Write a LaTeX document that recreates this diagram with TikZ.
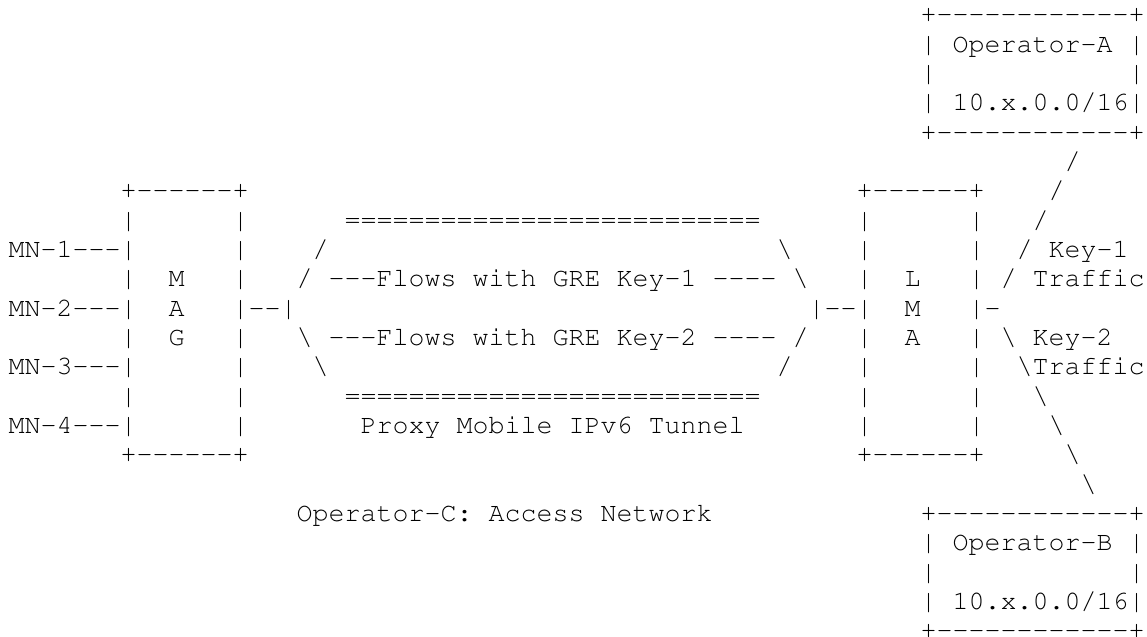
\documentclass[tikz,border=0pt]{standalone}
\usepackage[T1]{fontenc}
\usepackage{courier}

\newcommand\rul[1]{\foreach\k in {1,...,#1}{-}}

\begin{document}
\begin{tikzpicture}[x=6pt, y=-11pt,
    ascii/.style={anchor=base west, inner sep=0pt, text depth=0pt, font=\fontsize{10}{11}\selectfont\ttfamily}]
      \useasboundingbox (0,0) rectangle (71.6875,21.716);
      \node[ascii] (opA0) at (57.5,0.78) {+\rul{12}+};
      \node[ascii] (opA1) at (57.5,1.78) {| Operator-A |};
      \node[ascii] (opA2) at (57.5,2.78) {|~~~~~~~~~~~~|};
      \node[ascii] (opA3) at (57.5,3.78) {| 10.x.0.0/16|};
      \node[ascii] (opA4) at (57.5,4.78) {+\rul{12}+};
      \node[ascii] (keyA5) at (66.5,5.78) {/};
      \node[ascii] (mag6) at (7.5,6.78) {+\rul{6}+};
      \node[ascii] (lma6) at (53.5,6.78) {+\rul{6}+};
      \node[ascii] (keyA6) at (65.5,6.78) {/};
      \node[ascii] (mag7) at (7.5,7.78) {|~~~~~~|};
      \node[ascii] (tun7) at (21.5,7.78) {==========================};
      \node[ascii] (lma7) at (53.5,7.78) {|~~~~~~|};
      \node[ascii] (keyA7) at (64.5,7.78) {/};
      \node[ascii] (mag8) at (0.5,8.78) {MN-1\rul{3}|~~~~~~|};
      \node[ascii] (tun8a) at (19.5,8.78) {/};
      \node[ascii] (tun8b) at (48.5,8.78) {\textbackslash};
      \node[ascii] (lma8) at (53.5,8.78) {|~~~~~~|};
      \node[ascii] (keyA8) at (63.5,8.78) {/ Key-1};
      \node[ascii] (mag9) at (7.5,9.78) {|~~M~~~|};
      \node[ascii] (tun9) at (18.5,9.78) {/ \rul{3}Flows with GRE Key-1 \rul{4} \textbackslash};
      \node[ascii] (lma9) at (53.5,9.78) {|~~L~~~|};
      \node[ascii] (keyA9) at (62.5,9.78) {/ Traffic};
      \node[ascii] (mag10) at (0.5,10.78) {MN-2\rul{3}|~~A~~~|\rul{2}|};
      \node[ascii] (lma10) at (50.5,10.78) {|\rul{2}|~~M~~~|-};
      \node[ascii] (mag11) at (7.5,11.78) {|~~G~~~|};
      \node[ascii] (tun11) at (18.5,11.78) {\textbackslash{} \rul{3}Flows with GRE Key-2 \rul{4} /};
      \node[ascii] (lma11) at (53.5,11.78) {|~~A~~~|};
      \node[ascii] (keyB11) at (62.5,11.78) {\textbackslash{} Key-2};
      \node[ascii] (mag12) at (0.5,12.78) {MN-3\rul{3}|~~~~~~|};
      \node[ascii] (tun12a) at (19.5,12.78) {\textbackslash};
      \node[ascii] (tun12b) at (48.5,12.78) {/};
      \node[ascii] (lma12) at (53.5,12.78) {|~~~~~~|};
      \node[ascii] (keyB12) at (63.5,12.78) {\textbackslash Traffic};
      \node[ascii] (mag13) at (7.5,13.78) {|~~~~~~|};
      \node[ascii] (tun13) at (21.5,13.78) {==========================};
      \node[ascii] (lma13) at (53.5,13.78) {|~~~~~~|};
      \node[ascii] (keyB13) at (64.5,13.78) {\textbackslash};
      \node[ascii] (mag14) at (0.5,14.78) {MN-4\rul{3}|~~~~~~|};
      \node[ascii] (tun14) at (22.5,14.78) {Proxy Mobile IPv6 Tunnel};
      \node[ascii] (lma14) at (53.5,14.78) {|~~~~~~|};
      \node[ascii] (keyB14) at (65.5,14.78) {\textbackslash};
      \node[ascii] (mag15) at (7.5,15.78) {+\rul{6}+};
      \node[ascii] (lma15) at (53.5,15.78) {+\rul{6}+};
      \node[ascii] (keyB15) at (66.5,15.78) {\textbackslash};
      \node[ascii] (keyB16) at (67.5,16.78) {\textbackslash};
      \node[ascii] (opC) at (18.5,17.78) {Operator-C: Access Network};
      \node[ascii] (opB17) at (57.5,17.78) {+\rul{12}+};
      \node[ascii] (opB18) at (57.5,18.78) {| Operator-B |};
      \node[ascii] (opB19) at (57.5,19.78) {|~~~~~~~~~~~~|};
      \node[ascii] (opB20) at (57.5,20.78) {| 10.x.0.0/16|};
      \node[ascii] (opB21) at (57.5,21.78) {+\rul{12}+};
    \end{tikzpicture}
\end{document}
